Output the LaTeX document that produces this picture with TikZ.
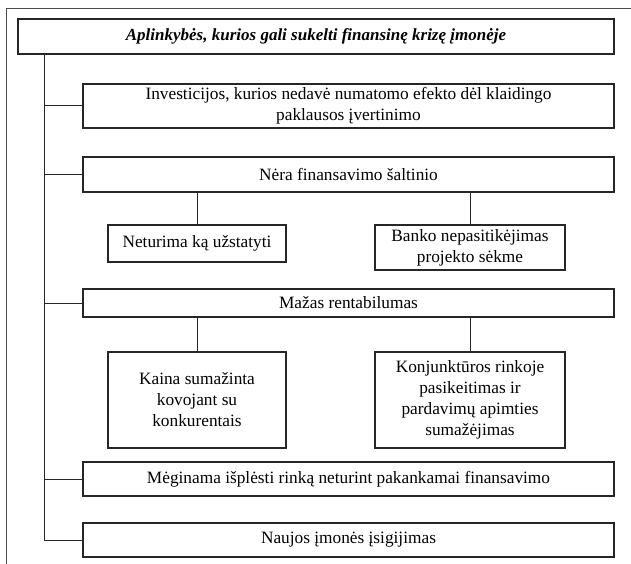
\documentclass[tikz,border=0pt]{standalone}
\usepackage{fontspec}
\setmainfont{Liberation Serif}
\begin{document}
\begin{tikzpicture}[x=1pt,y=-1pt,
  box/.style={draw=black!85,line width=1.1pt,inner sep=0pt,align=center,
    font=\fontsize{17.3}{21}\selectfont},
  wide/.style={box,minimum width=531pt},
  sub/.style={box,minimum height=96pt},
  link/.style={draw=black!85,line width=1pt},
  frame/.style={draw=black!70,line width=0.8pt}]
\useasboundingbox (0,0) rectangle (631,564);
\draw[frame] (6,564) -- (6,8) -- (631,8);
\node[box,minimum width=596pt,minimum height=35pt,font=\fontsize{17}{21}\selectfont\bfseries\itshape] (title) at (316,36.5) {Aplinkybės, kurios gali sukelti finansinę krizę įmonėje};
\node[wide,minimum height=44pt] (b1) at (348.5,106) {Investicijos, kurios nedavė numatomo efekto dėl klaidingo\\paklausos įvertinimo};
\node[wide,minimum height=35pt] (b2) at (348.5,174.5) {Nėra finansavimo šaltinio};
\node[box,minimum width=178pt,minimum height=37pt] (n1) at (197,243.5) {Neturima ką užstatyti};
\node[box,minimum width=190pt,minimum height=45pt] (n2) at (470,247.5) {Banko nepasitikėjimas\\projekto sėkme};
\node[wide,minimum height=28pt] (m) at (348.5,303) {Mažas rentabilumas};
\node[sub,minimum width=178pt] (k1) at (197,400) {Kaina sumažinta\\kovojant su\\konkurentais};
\node[sub,minimum width=190pt] (k2) at (470,400) {Konjunktūros rinkoje\\pasikeitimas ir\\pardavimų apimties\\sumažėjimas};
\node[wide,minimum height=34pt] (g) at (348.5,479) {Mėginama išplėsti rinką neturint pakankamai finansavimo};
\node[wide,minimum height=34pt] (u) at (348.5,540) {Naujos įmonės įsigijimas};
\coordinate (top) at (44,54);
\draw[link] (top) |- (u.west);
\foreach \b in {b1,b2,m,g} \draw[link] (\b.west) -- (\b.west -| top);
\draw[link] (n1.north) -- (n1.north |- b2.south);
\draw[link] (n2.north) -- (n2.north |- b2.south);
\draw[link] (k1.north) -- (k1.north |- m.south);
\draw[link] (k2.north) -- (k2.north |- m.south);
\end{tikzpicture}
\end{document}
